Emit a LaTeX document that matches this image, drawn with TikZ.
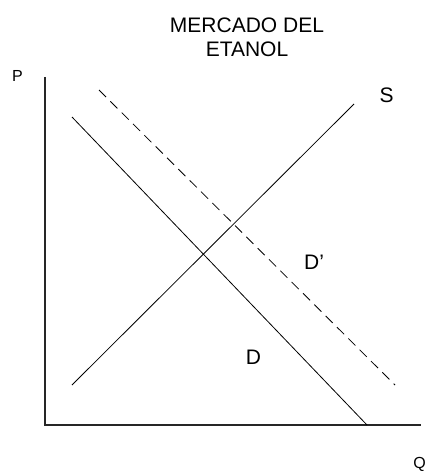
\documentclass[tikz,border=0pt]{standalone}
\usepackage{fontspec}
\setmainfont{Liberation Sans}
\begin{document}
\begin{tikzpicture}[x=1pt,y=-1pt,
  axis/.style={line width=1.1pt,black!85},
  curve/.style={line width=0.8pt,black},
  dashcurve/.style={curve,dash pattern=on 10pt off 6pt},
  biglabel/.style={font=\fontsize{21}{24}\selectfont,inner sep=0pt},
  smalllabel/.style={font=\fontsize{16}{18}\selectfont,inner sep=0pt}]
\useasboundingbox (0,0) rectangle (425,473);
\node[biglabel,align=center] (title) at (247,37.5) {MERCADO DEL\\ETANOL};
% axes
\coordinate (O) at (45,425);
\coordinate (ytop) at (45,77);
\coordinate (xend) at (421,425);
\draw[axis] (ytop) -- (O) -- (xend);
% supply
\coordinate (s1) at (72,385);
\coordinate (s2) at (354,104);
\draw[curve] (s1) -- (s2);
% demand
\coordinate (d1) at (72,117);
\coordinate (d2) at (367,425);
\draw[curve] (d1) -- (d2);
% new demand
\coordinate (dp1) at (99,90);
\coordinate (dp2) at (395,385);
\draw[dashcurve] (dp1) -- (dp2);
% labels
\node[smalllabel] (P) at (17.5,75.5) {P};
\node[smalllabel] (Q) at (419.5,464.5) {Q};
\node[biglabel] (S) at (386.5,95) {S};
\node[biglabel] (D) at (253.5,357) {D};
\node[biglabel] (Dp) at (314,262) {D’};
\end{tikzpicture}
\end{document}
